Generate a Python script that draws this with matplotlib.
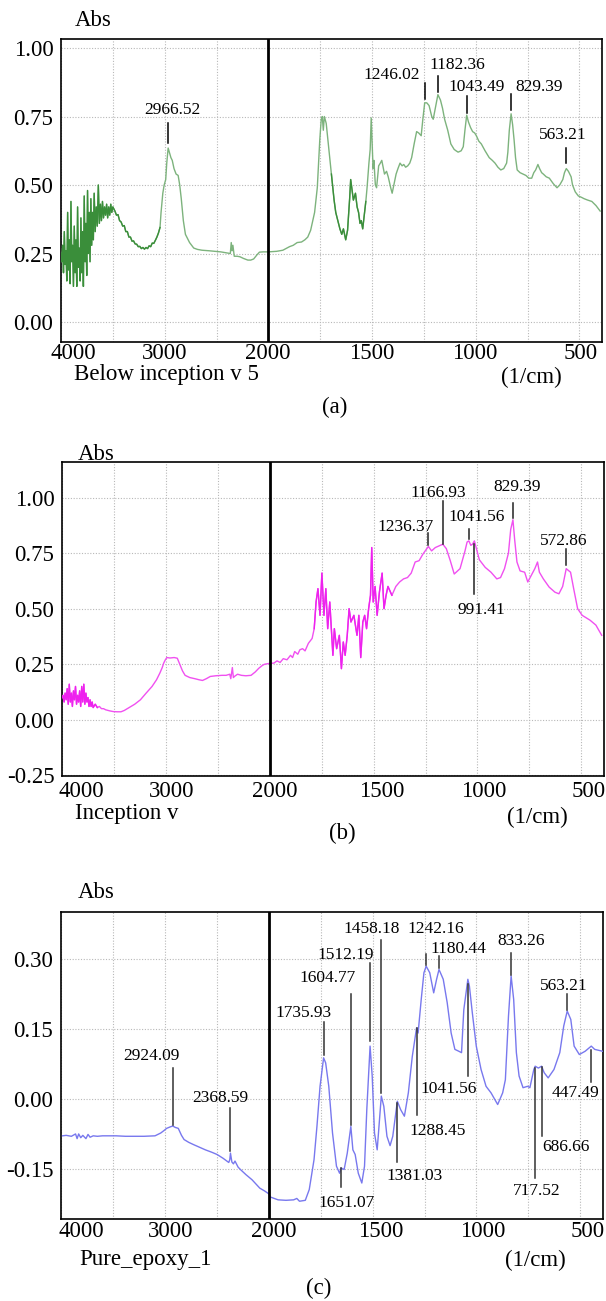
import numpy as np
import matplotlib
matplotlib.use("Agg")
import matplotlib.pyplot as plt
from matplotlib.transforms import ScaledTranslation
from matplotlib.ticker import FixedLocator

plt.rcParams['font.family'] = ['Liberation Serif', 'DejaVu Serif']
plt.rcParams['axes.unicode_minus'] = False

# ---------------- data: panel (a) Below inception v 5 ----------------
wn_a = [4000, 3992, 3984, 3976, 3968, 3960, 3952, 3944, 3936, 3928, 3920, 3912, 3904, 3896, 3888,
        3880, 3872, 3864, 3856, 3848, 3840, 3832, 3824, 3816, 3808, 3800, 3792, 3784, 3776, 3768,
        3760, 3752, 3744, 3736, 3728, 3720, 3712, 3704, 3696, 3688, 3680, 3670, 3660, 3650, 3640,
        3630, 3620, 3610, 3600, 3590, 3580, 3570, 3560, 3550, 3540, 3530, 3520, 3510, 3500,
        3480, 3465, 3450, 3435, 3420, 3405, 3390, 3375, 3360, 3345, 3330, 3315, 3300, 3285, 3270,
        3255, 3240, 3225, 3210, 3195, 3180, 3165, 3150, 3135, 3120, 3105, 3090, 3075, 3060, 3045,
        3035, 3025, 3018, 3005, 2990, 2980, 2966.52, 2955, 2940, 2927, 2910, 2890, 2870, 2855, 2840,
        2820, 2800, 2760, 2720, 2684, 2640, 2572, 2520, 2460, 2400, 2367, 2358, 2350, 2342, 2329,
        2300, 2273, 2240, 2198, 2170, 2142, 2110, 2086, 2050, 2000,
        1960, 1930, 1898, 1880, 1861, 1840, 1824, 1810, 1796, 1777, 1764, 1752, 1745, 1740, 1735,
        1730, 1721, 1711, 1696, 1683, 1675, 1665, 1655, 1646, 1638, 1627, 1618, 1608, 1603, 1596,
        1590, 1580, 1572, 1565, 1558, 1552, 1545, 1539, 1530, 1524, 1515, 1509, 1504, 1500, 1495,
        1491, 1484, 1478, 1468, 1460, 1453, 1440, 1430, 1422, 1410, 1403, 1395, 1384, 1375, 1365,
        1355, 1347, 1338, 1328, 1318, 1309, 1297, 1285, 1275, 1263, 1255, 1246.02, 1236, 1225, 1212,
        1205, 1195, 1182.36, 1170, 1160, 1150, 1135, 1120, 1104, 1095, 1085, 1070, 1060, 1052, 1043.49,
        1035, 1025, 1015, 1005, 997, 985, 973, 955, 935, 920, 907, 893, 879, 865, 851,
        845, 838, 829.39, 822, 815, 808, 800, 786, 772, 758, 744, 730, 720, 711, 700,
        692, 682, 674, 660, 645, 626, 608, 595, 580, 572, 563.21, 553, 540, 533, 520,
        505, 490, 477, 460, 440, 420, 400]
abs_a = [0.25, 0.22, 0.28, 0.18, 0.33, 0.21, 0.26, 0.15, 0.40, 0.19, 0.30, 0.14, 0.44, 0.22, 0.28,
         0.13, 0.35, 0.18, 0.30, 0.13, 0.42, 0.20, 0.27, 0.15, 0.38, 0.18, 0.33, 0.13, 0.46, 0.22,
         0.36, 0.17, 0.48, 0.25, 0.40, 0.22, 0.45, 0.28, 0.40, 0.30, 0.47, 0.33, 0.42, 0.35, 0.50,
         0.36, 0.43, 0.37, 0.44, 0.38, 0.42, 0.39, 0.43, 0.38, 0.42, 0.39, 0.43, 0.40, 0.42,
         0.405, 0.39, 0.392, 0.37, 0.365, 0.35, 0.352, 0.33, 0.33, 0.31, 0.31, 0.295, 0.296, 0.285, 0.284,
         0.275, 0.276, 0.268, 0.272, 0.266, 0.272, 0.268, 0.278, 0.275, 0.288, 0.287, 0.298, 0.31, 0.325, 0.345,
         0.40, 0.44, 0.47, 0.50, 0.52, 0.58, 0.635, 0.62, 0.60, 0.59, 0.56, 0.54, 0.535, 0.50, 0.45,
         0.37, 0.32, 0.29, 0.27, 0.265, 0.262, 0.26, 0.258, 0.256, 0.252, 0.25, 0.29, 0.26, 0.28, 0.24,
         0.24, 0.238, 0.232, 0.226, 0.226, 0.23, 0.245, 0.255, 0.256, 0.256,
         0.258, 0.262, 0.275, 0.28, 0.29, 0.292, 0.30, 0.31, 0.335, 0.40, 0.49, 0.665, 0.74, 0.75, 0.70,
         0.75, 0.725, 0.65, 0.54, 0.445, 0.40, 0.37, 0.34, 0.32, 0.34, 0.30, 0.335, 0.45, 0.52, 0.48,
         0.445, 0.47, 0.42, 0.40, 0.36, 0.37, 0.34, 0.38, 0.44, 0.49, 0.58, 0.63, 0.745, 0.66, 0.56,
         0.59, 0.50, 0.49, 0.57, 0.58, 0.59, 0.54, 0.55, 0.53, 0.49, 0.47, 0.50, 0.54, 0.56, 0.58,
         0.57, 0.575, 0.565, 0.57, 0.58, 0.60, 0.65, 0.695, 0.69, 0.68, 0.74, 0.80, 0.80, 0.79, 0.75,
         0.74, 0.78, 0.83, 0.81, 0.78, 0.74, 0.70, 0.65, 0.63, 0.625, 0.62, 0.625, 0.64, 0.70, 0.755,
         0.73, 0.71, 0.695, 0.69, 0.68, 0.66, 0.65, 0.625, 0.60, 0.59, 0.58, 0.565, 0.555, 0.56, 0.58,
         0.62, 0.70, 0.76, 0.72, 0.665, 0.60, 0.555, 0.545, 0.54, 0.535, 0.525, 0.525, 0.545, 0.555, 0.575,
         0.56, 0.545, 0.54, 0.53, 0.525, 0.505, 0.49, 0.50, 0.52, 0.545, 0.56, 0.55, 0.53, 0.50, 0.475,
         0.46, 0.455, 0.45, 0.445, 0.44, 0.425, 0.405]

# ---------------- data: panel (b) Inception v ----------------
wn_b = [4000, 3990, 3980, 3970, 3960, 3950, 3940, 3930, 3920, 3910, 3900, 3890, 3880, 3870, 3860,
        3850, 3840, 3830, 3820, 3810, 3800, 3790, 3780, 3770, 3760, 3750, 3740, 3730, 3720, 3710,
        3700, 3680, 3660, 3640, 3620, 3600, 3580, 3540, 3507, 3470, 3432, 3400, 3357, 3300, 3245,
        3190, 3133, 3090, 3058, 3035, 3021, 3005, 2991, 2960, 2920, 2890, 2875, 2864, 2840, 2815,
        2770, 2722, 2680, 2647, 2610, 2572, 2520, 2460, 2420, 2385, 2375, 2365, 2360, 2350, 2340,
        2310, 2273, 2230, 2180, 2140, 2105, 2070, 2049, 2000,
        1980, 1965, 1950, 1935, 1917, 1900, 1890, 1880, 1865, 1855, 1842, 1830, 1814, 1796, 1786,
        1777, 1768, 1758, 1749, 1739, 1730, 1721, 1711, 1696, 1689, 1678, 1665, 1655, 1646, 1637,
        1627, 1618, 1609, 1595, 1580, 1571, 1562, 1552, 1543, 1534, 1524, 1515, 1509, 1502, 1493,
        1483, 1472, 1459, 1450, 1440, 1431, 1412, 1393, 1375, 1356, 1337, 1319, 1300, 1281, 1263,
        1236.37, 1221, 1203, 1166.93, 1150, 1131, 1112, 1084, 1060, 1050, 1041.56, 1032, 1024, 1015, 1008,
        991, 963, 935, 907, 889, 870, 851, 840, 829.39, 821, 810, 795, 773, 758, 739,
        724, 711, 702, 683, 655, 627, 608, 590, 572.86, 552, 537, 518, 496, 458, 430,
        402]
abs_b = [0.10, 0.11, 0.08, 0.12, 0.09, 0.14, 0.07, 0.16, 0.08, 0.12, 0.06, 0.13, 0.09, 0.15, 0.07,
         0.11, 0.08, 0.13, 0.06, 0.15, 0.08, 0.16, 0.07, 0.12, 0.08, 0.10, 0.06, 0.09, 0.06, 0.08,
         0.055, 0.07, 0.055, 0.06, 0.05, 0.05, 0.045, 0.04, 0.037, 0.036, 0.036, 0.042, 0.054, 0.07, 0.09,
         0.12, 0.15, 0.18, 0.21, 0.235, 0.255, 0.27, 0.28, 0.278, 0.28, 0.277, 0.26, 0.247, 0.22, 0.20,
         0.19, 0.185, 0.18, 0.177, 0.185, 0.195, 0.198, 0.20, 0.20, 0.205, 0.185, 0.22, 0.235, 0.19, 0.195,
         0.205, 0.20, 0.198, 0.20, 0.215, 0.232, 0.245, 0.25, 0.254,
         0.255, 0.265, 0.258, 0.275, 0.27, 0.29, 0.28, 0.307, 0.295, 0.315, 0.32, 0.31, 0.344, 0.366, 0.41,
         0.53, 0.59, 0.47, 0.66, 0.47, 0.59, 0.41, 0.53, 0.29, 0.41, 0.32, 0.38, 0.23, 0.35, 0.29,
         0.38, 0.50, 0.44, 0.47, 0.38, 0.47, 0.28, 0.44, 0.47, 0.41, 0.50, 0.56, 0.775, 0.53, 0.60,
         0.47, 0.575, 0.66, 0.50, 0.56, 0.60, 0.56, 0.60, 0.62, 0.634, 0.64, 0.66, 0.71, 0.716, 0.745,
         0.78, 0.76, 0.775, 0.79, 0.77, 0.716, 0.656, 0.68, 0.76, 0.80, 0.805, 0.785, 0.79, 0.805, 0.78,
         0.72, 0.686, 0.664, 0.634, 0.64, 0.68, 0.75, 0.857, 0.90, 0.81, 0.71, 0.67, 0.664, 0.62, 0.654,
         0.68, 0.71, 0.664, 0.634, 0.597, 0.574, 0.567, 0.60, 0.68, 0.664, 0.59, 0.50, 0.47, 0.448, 0.426,
         0.38]

# ---------------- data: panel (c) Pure_epoxy_1 ----------------
wn_c = [3985, 3950, 3900, 3860, 3845, 3830, 3810, 3790, 3760, 3740, 3720, 3690, 3650, 3600, 3550,
        3470, 3380, 3282, 3200, 3095, 3040, 3010, 2983, 2950, 2924.09, 2900, 2871, 2840, 2815, 2770,
        2722, 2660, 2610, 2550, 2497, 2440, 2385, 2375, 2368.59, 2355, 2340, 2325, 2318, 2295, 2273,
        2220, 2161, 2120, 2086, 2040, 2000,
        1992, 1955, 1917, 1880, 1865, 1852, 1824, 1805, 1782, 1768, 1753, 1735.93, 1726, 1711, 1693,
        1674, 1659, 1651.07, 1637, 1622, 1604.77, 1595, 1584, 1569, 1552, 1539, 1528, 1512.19, 1502, 1491,
        1478, 1458.18, 1446, 1431, 1416, 1403, 1381.03, 1365, 1347, 1328, 1309, 1288.45, 1281, 1266, 1253,
        1242.16, 1225, 1206, 1192, 1180.44, 1160, 1141, 1122, 1104, 1085, 1072, 1061, 1041.56, 1034, 1020,
        1001, 978, 954, 930, 898, 874, 861, 846, 833.26, 821, 808, 795, 776, 754, 743,
        724, 717.52, 702, 686.66, 674, 655, 627, 599, 580, 563.21, 546, 530, 505, 477, 447.49,
        431, 393]
abs_c = [-0.079, -0.078, -0.080, -0.075, -0.085, -0.075, -0.083, -0.078, -0.085, -0.076, -0.082, -0.079, -0.080, -0.079, -0.079,
         -0.079, -0.080, -0.080, -0.080, -0.079, -0.073, -0.068, -0.063, -0.060, -0.058, -0.061, -0.063, -0.078, -0.087, -0.093,
         -0.098, -0.104, -0.109, -0.114, -0.119, -0.127, -0.136, -0.130, -0.116, -0.135, -0.139, -0.133, -0.136, -0.146, -0.151,
         -0.162, -0.173, -0.183, -0.191, -0.197, -0.203,
         -0.210, -0.216, -0.217, -0.216, -0.213, -0.219, -0.217, -0.194, -0.130, -0.059, 0.027, 0.088, 0.077, 0.027, -0.073,
         -0.144, -0.159, -0.148, -0.151, -0.116, -0.059, -0.109, -0.119, -0.159, -0.180, -0.144, -0.023, 0.113, 0.049, -0.073,
         -0.109, 0.006, -0.016, -0.080, -0.100, -0.080, -0.005, -0.023, -0.037, 0.013, 0.091, 0.152, 0.141, 0.213, 0.270,
         0.284, 0.270, 0.227, 0.256, 0.277, 0.256, 0.206, 0.141, 0.106, 0.102, 0.099, 0.191, 0.256, 0.241, 0.184,
         0.113, 0.063, 0.027, 0.013, -0.012, 0.013, 0.041, 0.177, 0.263, 0.213, 0.099, 0.049, 0.024, 0.027, 0.024,
         0.063, 0.070, 0.066, 0.070, 0.056, 0.045, 0.063, 0.099, 0.156, 0.188, 0.170, 0.113, 0.095, 0.102, 0.113,
         0.106, 0.102]

# tick labels
xticks = [4000, 3000, 2000, 1500, 1000, 500]
xminor = [3500, 2500, 1750, 1250, 750]
yticks_a = [0.00, 0.25, 0.50, 0.75, 1.00]
yticks_b = [-0.25, 0.00, 0.25, 0.50, 0.75, 1.00]
yticks_c = [-0.15, 0.00, 0.15, 0.30]

# noisy (densely sampled) regions drawn darker, as in the scan
noisy_a = [(4000, 3040), (1700, 1530)]
noisy_b = [(4000, 3650), (1790, 1400)]

# peak annotations: (label, line x, line y-top, line y-bottom, text x, text y)
peaks_a = [("2966.52", 2966.52, 0.728, 0.652, 2923, 0.774),
           ("1246.02", 1246.02, 0.872, 0.813, 1403, 0.902),
           ("1182.36", 1182.36, 0.899, 0.841, 1089, 0.939),
           ("1043.49", 1043.49, 0.826, 0.762, 995, 0.857),
           ("829.39", 829.39, 0.833, 0.774, 692, 0.857),
           ("563.21", 563.21, 0.634, 0.579, 580, 0.683)]
peaks_b = [("1236.37", 1236.37, 0.839, 0.786, 1347, 0.869),
           ("1166.93", 1166.93, 0.984, 0.790, 1188, 1.021),
           ("1041.56", 1041.56, 0.857, 0.813, 1005, 0.914),
           ("991.41", 1015, 0.790, 0.564, 982, 0.493),
           ("829.39", 829.39, 0.976, 0.909, 808, 1.046),
           ("572.86", 572.86, 0.768, 0.696, 586, 0.805)]
peaks_c = [("2924.09", 2924.09, 0.066, -0.056, 3133, 0.091),
           ("2368.59", 2368.59, -0.019, -0.112, 2467, 0.002),
           ("1735.93", 1735.93, 0.165, 0.095, 1833, 0.183),
           ("1604.77", 1604.77, 0.225, -0.055, 1715, 0.259),
           ("1512.19", 1512.19, 0.290, 0.124, 1631, 0.309),
           ("1458.18", 1458.18, 0.341, 0.013, 1506, 0.363),
           ("1242.16", 1242.16, 0.310, 0.286, 1197, 0.363),
           ("1180.44", 1180.44, 0.306, 0.281, 1085, 0.321),
           ("833.26", 833.26, 0.313, 0.266, 786, 0.338),
           ("563.21", 563.21, 0.224, 0.191, 580, 0.241),
           ("1651.07", 1651.07, -0.148, -0.189, 1627, -0.223),
           ("1381.03", 1381.03, -0.009, -0.134, 1300, -0.164),
           ("1288.45", 1288.45, 0.152, -0.034, 1188, -0.069),
           ("1041.56", 1041.56, 0.245, 0.050, 1132, 0.021),
           ("717.52", 717.52, 0.066, -0.169, 711, -0.198),
           ("686.66", 686.66, 0.069, -0.079, 567, -0.103),
           ("447.49", 447.49, 0.104, 0.036, 524, 0.013)]

# ---------------- figure ----------------
W, H = 606, 1301
fig = plt.figure(figsize=(W / 100, H / 100), dpi=100)


def fwd(x):
    x = np.asarray(x, dtype=float)
    return np.where(x <= 2000, x, 2000 + (x - 2000) / 2.0)


def inv(u):
    u = np.asarray(u, dtype=float)
    return np.where(u <= 2000, u, 2000 + (u - 2000) * 2.0)


def fx(px):
    return px / W


def fy(py):
    return 1 - py / H


FS = 16.5
AFS = 12.5


def make_panel(box, wn, ab, color, dark, noisy, ylim, yticks, peaks, xoffs, xpad, linecol):
    l, r, t, b = box
    ax = fig.add_axes([fx(l), fy(b), (r - l) / W, (b - t) / H])
    ax.set_xscale('function', functions=(fwd, inv))
    wn_arr = np.asarray(wn)
    ab_arr = np.asarray(ab)
    ax.plot(wn_arr, ab_arr, color=color, lw=1.0, zorder=3)
    for hi, lo in noisy:
        m = (wn_arr <= hi) & (wn_arr >= lo)
        ax.plot(wn_arr[m], ab_arr[m], color=dark, lw=1.0, zorder=3.5)
    ax.set_xlim(4000, 391)
    ax.set_ylim(*ylim)
    ax.xaxis.set_major_locator(FixedLocator(xticks))
    ax.xaxis.set_minor_locator(FixedLocator(xminor))
    ax.set_xticklabels([str(v) for v in xticks])
    ax.yaxis.set_major_locator(FixedLocator(yticks))
    ax.set_yticklabels(["%.2f" % v for v in yticks])
    ax.xaxis.set_minor_formatter(plt.NullFormatter())
    ax.tick_params(axis='both', which='both', length=0, labelsize=FS)
    ax.tick_params(axis='y', pad=5.5)
    ax.tick_params(axis='x', pad=xpad)
    ax.grid(True, which='both', axis='x', color='#b8b8b8', lw=0.8, ls=(0, (1, 1.5)))
    ax.grid(True, which='major', axis='y', color='#b8b8b8', lw=0.8, ls=(0, (1, 1.5)))
    ax.set_axisbelow(True)
    ax.axvline(2000, color='black', lw=2.0, zorder=4)
    for sp in ax.spines.values():
        sp.set_color('black')
        sp.set_linewidth(1.2)
    for lab, dx in zip(ax.get_xticklabels(), xoffs):
        lab.set_transform(lab.get_transform() + ScaledTranslation(dx / 100, 0, fig.dpi_scale_trans))
    for txt, lx, y0, y1, tx, ty in peaks:
        ax.plot([lx, lx], [y0, y1], color=linecol, lw=1.1, zorder=5)
        ax.text(tx, ty, txt, ha='center', va='center', fontsize=AFS, zorder=6)
    return ax


make_panel((61, 602, 39, 342), wn_a, abs_a, '#7db37d', '#3a8e3a', noisy_a, (-0.073, 1.033), yticks_a,
           peaks_a, [12, 0, -1, 0, -1, 1], 1.0, 'black')
make_panel((62, 604, 462, 776), wn_b, abs_b, '#f050f0', '#ee22ee', noisy_b, (-0.253, 1.16), yticks_b,
           peaks_b, [19, 6, 5, 8, 6, 7], 3.5, '#222222')
make_panel((61, 603, 912, 1219), wn_c, abs_c, '#7878ee', '#7878ee', [], (-0.257, 0.40), yticks_c,
           peaks_c, [20, 6, 5, 8, 6, 7], 1.5, '#333333')

# panel texts
fig.text(fx(75), fy(21), "Abs", ha='left', va='center', fontsize=FS)
fig.text(fx(74), fy(375), "Below inception v 5", ha='left', va='center', fontsize=FS)
fig.text(fx(531), fy(377), "(1/cm)", ha='center', va='center', fontsize=FS)
fig.text(fx(335), fy(407), "(a)", ha='center', va='center', fontsize=FS)

fig.text(fx(78), fy(455), "Abs", ha='left', va='center', fontsize=FS)
fig.text(fx(75), fy(813), "Inception v", ha='left', va='center', fontsize=FS)
fig.text(fx(537), fy(817), "(1/cm)", ha='center', va='center', fontsize=FS)
fig.text(fx(342), fy(833), "(b)", ha='center', va='center', fontsize=FS)

fig.text(fx(78), fy(893), "Abs", ha='left', va='center', fontsize=FS)
fig.text(fx(79), fy(1260), "Pure_epoxy_1", ha='left', va='center', fontsize=FS)
fig.text(fx(535), fy(1260), "(1/cm)", ha='center', va='center', fontsize=FS)
fig.text(fx(319), fy(1288), "(c)", ha='center', va='center', fontsize=FS)

fig.savefig("out.png", dpi=100, facecolor='white')
